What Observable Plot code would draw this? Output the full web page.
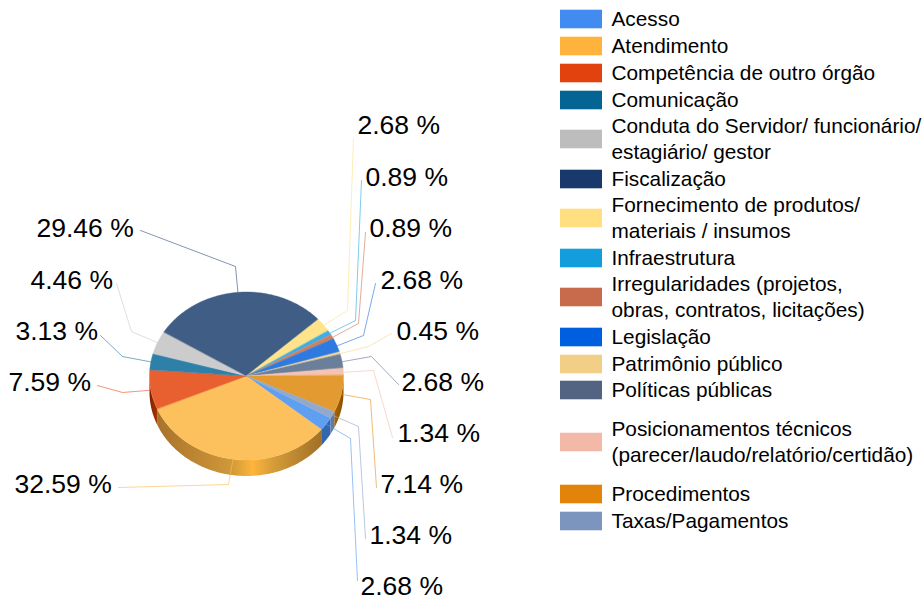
<!DOCTYPE html>
<html lang="pt">
<head>
<meta charset="utf-8">
<script src="https://cdn.jsdelivr.net/npm/d3@7"></script>
<script src="https://cdn.jsdelivr.net/npm/@observablehq/plot@0.6"></script>
<style>
html,body{margin:0;padding:0;background:#fff}
svg{display:block}
</style>
</head>
<body>
<div id="chart"></div>
<script>
// ---- data ----
const categories = ["Acesso","Atendimento","Competência de outro órgão","Comunicação",
  "Conduta do Servidor/ funcionário/\nestagiário/ gestor","Fiscalização",
  "Fornecimento de produtos/\nmateriais / insumos","Infraestrutura",
  "Irregularidades (projetos,\nobras, contratos, licitações)","Legislação","Patrimônio público",
  "Políticas públicas","Posicionamentos técnicos\n(parecer/laudo/relatório/certidão)",
  "Procedimentos","Taxas/Pagamentos"];
const values = [2.68,32.59,7.59,3.13,4.46,29.46,2.68,0.89,0.89,2.68,0.45,2.68,1.34,7.14,1.34];

// ---- colours ----
const legendColors = ["#428bf0","#ffb23c","#e2420e","#046595","#bdbdbd","#19386b","#ffdf80","#129ddd",
  "#c86a4c","#005fde","#f2cf86","#536482","#f2b8a8","#e2830a","#7b95bf"];
const faceColors = ["#5f9ff2","#fcc05c","#e86030","#2f80a8","#cccccc","#3f5d85","#ffe38a","#3ab0e6",
  "#d08060","#2f7ae0","#f5d898","#6c7f9a","#f5c3b3","#e39a30","#93a9cc"];
const wallFills = {0:"#3366b0",1:"url(#wallAtend)",2:"url(#wallComp)",13:"url(#wallProc)",14:"#64799f"};

// ---- layout (pixels of the page) ----
const W = 923, H = 603;
const pie = {cx:246.5, cy:376, rx:97, ry:84, depth:16};
const legendY = [19,46,73,100,139,179,218,258,297,337,364,390,442,494,521];
const labelX = [360,14,8,15,30,36,357,365,369,380,396,401,397,380,369];
const labelY = [586,484,382,331,280,228,125,177,228,280,331,382,433,484,535];
const elbows = [[350,438],[228,484],[122,392],[122,356],[131,331],[235,266],[347,310],[355,320],
  [358,323],[363,335],[368,346],[371,356],[373,370],[370,399],[358,426]];
const ends = [[357,580],[118,487],[97,385],[100,335],[116,283],[140,230],[353,138],[361,180],
  [365,232],[375,283],[391,333],[398,384],[392,437],[376,487],[365,538]];

// ---- geometry derived from the values ----
const TAU = 2 * Math.PI;
const arcs = d3.pie().sort(null).value(d => d).startAngle(TAU / 3).endAngle(TAU / 3 + TAU)(values);
const rim = a => ({x: pie.cx + pie.rx * Math.cos(a), y: pie.cy + pie.ry * Math.sin(a)});
const sweep = (a0, a1) => {
  const n = Math.max(2, Math.ceil((a1 - a0) / (Math.PI / 180)));
  return d3.range(n + 1).map(i => a0 + (a1 - a0) * i / n);
};
const faces = arcs.flatMap((s, i) => sweep(s.startAngle - Math.PI / 2, s.endAngle - Math.PI / 2)
  .map(a => ({i, ...rim(a)})));
// the side wall shows only on the front half of the rim (0..180 degrees)
const walls = arcs.flatMap((s, i) => [0, TAU].flatMap(turn => {
  const a0 = Math.max(s.startAngle - Math.PI / 2 - turn, 0);
  const a1 = Math.min(s.endAngle - Math.PI / 2 - turn, Math.PI);
  return a1 > a0 ? sweep(a0, a1).map(a => ({i, ...rim(a)})) : [];
}));
const leaders = arcs.flatMap((s, i) => {
  const p = rim((s.startAngle + s.endAngle) / 2 - Math.PI / 2);
  return [p, {x: elbows[i][0], y: elbows[i][1]}, {x: ends[i][0], y: ends[i][1]}].map(q => ({i, ...q}));
});
const rows = categories.map((name, i) => ({name, value: values[i], i}));

const gradient = (id, stops) => `<linearGradient id="${id}" x1="0" x2="1" y1="0" y2="0">` +
  stops.map(([o, c]) => `<stop offset="${o}" stop-color="${c}"/>`).join("") + `</linearGradient>`;
const defs = () => {
  const g = document.createElementNS("http://www.w3.org/2000/svg", "g");
  g.innerHTML = `<defs>` +
    gradient("wallAtend", [[0,"#a9732a"],[0.45,"#cf9838"],[0.58,"#fdb53c"],[0.72,"#d29a38"],[1,"#a27028"]]) +
    gradient("wallComp", [[0,"#7a2200"],[1,"#a83400"]]) +
    gradient("wallProc", [[0,"#a86400"],[1,"#8a5000"]]) + `</defs>`;
  return g;
};

const chart = Plot.plot({
  width: W, height: H, margin: 0,
  x: {domain: [0, W], range: [0, W], axis: null},
  y: {domain: [0, H], range: [0, H], axis: null},
  style: {fontFamily: "'Liberation Sans', Arial, sans-serif", background: "#fff"},
  marks: [
    defs,
    Plot.area(walls, {x1: "x", x2: "x", y1: "y", y2: d => d.y + pie.depth, z: "i",
      fill: d => wallFills[d.i] ?? "#777"}),
    ...arcs.map((s, i) => Plot.area(faces.filter(d => d.i === i), {
      x1: () => pie.cx, y1: () => pie.cy, x2: "x", y2: "y",
      fill: faceColors[i], stroke: faceColors[i], strokeWidth: 0.4})),
    Plot.line(leaders, {x: "x", y: "y", z: "i", stroke: d => faceColors[d.i], strokeWidth: 1, strokeOpacity: 0.65, curve: "linear"}),
    Plot.text(rows, {x: d => labelX[d.i], y: d => labelY[d.i], text: d => d.value.toFixed(2) + " %",
      textAnchor: "start", lineAnchor: "middle", fontSize: 26.5, fill: "#000"}),
    Plot.rect(rows, {x1: () => 560, x2: () => 602, y1: d => legendY[d.i] - 9.3, y2: d => legendY[d.i] + 9.3,
      fill: d => legendColors[d.i]}),
    Plot.text(rows, {x: () => 611, y: d => legendY[d.i] - 1.5, text: "name", textAnchor: "start", lineAnchor: "middle",
      fontSize: 20.8, lineHeight: 1.21, fill: "#000"})
  ]
});
document.getElementById("chart").append(chart);
</script>
</body>
</html>
